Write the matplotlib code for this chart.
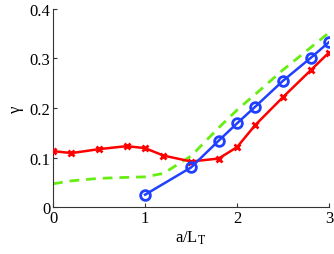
import matplotlib
matplotlib.use("Agg")
import matplotlib.pyplot as plt

x_red = [0, 0.2, 0.5, 0.8, 1.0, 1.2, 1.5, 1.8, 2.0, 2.2, 2.5, 2.8, 3.0]
y_red = [0.113, 0.109, 0.117, 0.123, 0.119, 0.104, 0.092, 0.098, 0.121, 0.166, 0.222, 0.276, 0.312]

x_blue = [1.0, 1.5, 1.8, 2.0, 2.2, 2.5, 2.8, 3.0]
y_blue = [0.025, 0.080, 0.134, 0.169, 0.203, 0.255, 0.301, 0.333]

x_green = [0, 0.2, 0.5, 0.8, 1.0, 1.2, 1.5, 1.8, 2.0, 2.2, 2.5, 2.8, 3.0]
y_green = [0.047, 0.053, 0.058, 0.060, 0.061, 0.068, 0.103, 0.160, 0.196, 0.228, 0.277, 0.322, 0.352]

xticks = [0, 1, 2, 3]
yticks = [0, 0.1, 0.2, 0.3, 0.4]
yticklabels = ["0", "0.1", "0.2", "0.3", "0.4"]

plt.rcParams['font.family'] = ['Liberation Serif', 'DejaVu Serif']
plt.rcParams['mathtext.fontset'] = 'stix'

fig = plt.figure(figsize=(3.34, 2.55), dpi=100)
ax = fig.add_axes([0.159, 0.184, 0.826, 0.777])

ax.plot(x_green, y_green, color='#66ee11', lw=2.0, ls=(0, (3.5, 2.5)), zorder=2)
ax.plot(x_red, y_red, color='#ff0000', lw=1.8, marker='x', ms=5, mew=2.0, zorder=3)
ax.plot(x_blue, y_blue, color='#2040ff', lw=1.8, marker='o', ms=7, mew=2.0,
        markerfacecolor='none', zorder=4)

ax.set_xlim(0, 3)
ax.set_ylim(0, 0.4)
ax.set_xticks(xticks)
ax.set_yticks(yticks)
ax.set_yticklabels(yticklabels)
ax.tick_params(direction='in', length=3, width=0.8, labelsize=12, colors='#333333',
               labelcolor='black', pad=2)
for s in ['top', 'right']:
    ax.spines[s].set_visible(False)
for s in ['left', 'bottom']:
    ax.spines[s].set_color('#333333')
    ax.spines[s].set_linewidth(0.8)

ax.set_xlabel(r'a/L$_{\rm T}$', fontsize=12, labelpad=2)
ax.set_ylabel('γ', fontsize=12, rotation=90, labelpad=4)

fig.savefig('out.png', dpi=100)
